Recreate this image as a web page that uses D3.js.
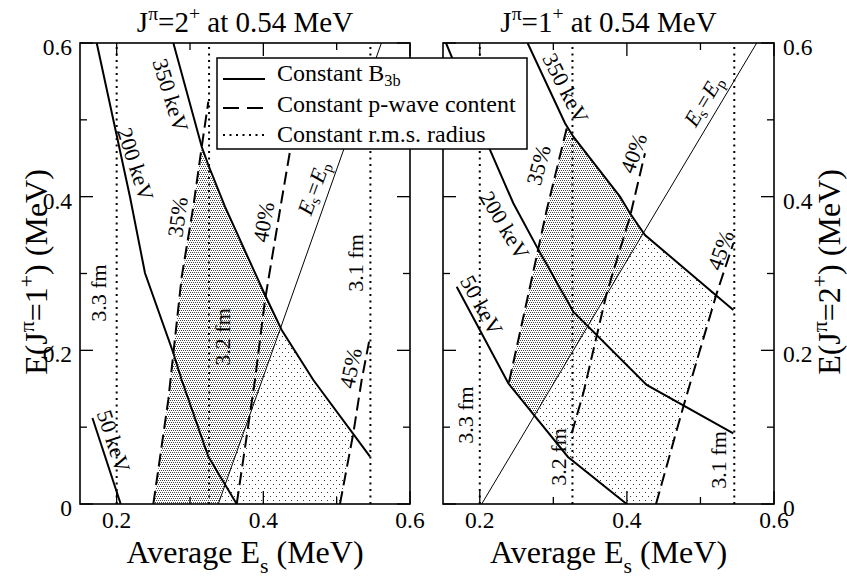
<!DOCTYPE html>
<html><head><meta charset="utf-8">
<script src="https://cdn.jsdelivr.net/npm/d3@7"></script>
<style>
body{margin:0;background:#fff}
svg text, svg tspan{font-family:"Liberation Serif","Times New Roman",Tinos,serif !important}
</style></head>
<body><svg id="c" width="847" height="577" style="font-family:'Liberation Serif','Times New Roman',serif"></svg>
<script>
// ---------------- data ----------------
const xMajor = [0.2, 0.4, 0.6];
const xMinor = [0.3, 0.5];
const yMajor = [0, 0.2, 0.4, 0.6];
const yMinor = [0.1, 0.3, 0.5];
const xTickLabels = ["0.2", "0.4", "0.6"];
const yTickLabels = ["0", "0.2", "0.4", "0.6"];
const rmsRadii = [0.2, 0.326, 0.546];
const rmsLabels = ["3.3 fm", "3.2 fm", "3.1 fm"];
const b3bLabels = ["50 keV", "200 keV", "350 keV"];
const pwaveLabels = ["35%", "40%", "45%"];

// Left panel: J=2+ at 0.54 MeV (y = E(1+))
const L_b50  = [[0.167,0.112],[0.2055,0]];
const L_b200 = [[0.1728,0.6],[0.2182,0.3996],[0.2386,0.3007],[0.2768,0.1978],[0.2887,0.1614],[0.325,0.0616],[0.3637,0]];
const L_b350 = [[0.2773,0.6],[0.316,0.465],[0.325,0.4412],[0.3477,0.387],[0.4023,0.272],[0.425,0.2265],[0.4682,0.1614],[0.5455,0.0616]];
const L_p35  = [[0.25,0],[0.2704,0.1354],[0.2887,0.2958],[0.3045,0.387],[0.316,0.465],[0.325,0.5236]];
const L_p40  = [[0.3637,0],[0.3886,0.1614],[0.4023,0.2655],[0.425,0.3957],[0.4418,0.4894]];
const L_p45  = [[0.5045,0],[0.5227,0.092],[0.5341,0.1614],[0.5455,0.2178]];
const L_eq   = [[0.3386,0],[0.561,0.6]];

// Right panel: J=1+ at 0.54 MeV (y = E(2+))
const R_b50  = [[0.1686,0.2828],[0.2388,0.1571],[0.3199,0.0612],[0.3997,0]];
const R_b200 = [[0.1541,0.6],[0.2139,0.4608],[0.2456,0.3914],[0.2774,0.335],[0.3271,0.2503],[0.4269,0.1549],[0.5447,0.092]];
const R_b350 = [[0.265,0.6],[0.3159,0.4955],[0.3272,0.478],[0.3906,0.4],[0.4042,0.3784],[0.4246,0.3501],[0.5447,0.2525]];
const R_p35  = [[0.2398,0.1588],[0.2683,0.2828],[0.291,0.3827],[0.3182,0.489]];
const R_p40  = [[0.325,0.092],[0.3407,0.144],[0.3725,0.2742],[0.4042,0.374],[0.4246,0.4565]];
const R_p45  = [[0.4396,0],[0.4767,0.1266],[0.4994,0.2004],[0.5221,0.2742],[0.5447,0.3393]];
const R_eq   = [[0.2026,0],[0.5765,0.6]];

// ---------------- layout ----------------
const FONT = "Liberation Serif";
const FONT_STYLE = "font-family:'Liberation Serif','Times New Roman',serif";
const svg = d3.select("#c");
const TOP = 43, BOT = 504;
const FS_TICK = 23.5, FS_NOTE = 22, FS_AX = 32, FS_TITLE = 29, FS_LEG = 24;

const defs = svg.append("defs");
const pd = defs.append("pattern").attr("id","dense").attr("patternUnits","userSpaceOnUse").attr("width",4).attr("height",4);
pd.append("rect").attr("width",4).attr("height",4).attr("fill","#fff");
[[0,0],[2,0],[1,2],[3,2]].forEach(p=>pd.append("rect").attr("x",p[0]).attr("y",p[1]).attr("width",1).attr("height",1).attr("fill","#444"));
const ps = defs.append("pattern").attr("id","sparse").attr("patternUnits","userSpaceOnUse").attr("width",6).attr("height",8);
ps.append("rect").attr("width",6).attr("height",8).attr("fill","#fff");
[[0,0],[3,4]].forEach(p=>ps.append("rect").attr("x",p[0]).attr("y",p[1]).attr("width",1).attr("height",1).attr("fill","#333"));

function txt(parent){ return parent.append("text").attr("font-family",FONT).attr("style",FONT_STYLE).attr("fill","#000"); }
function rich(textSel, parts, fs, subShift){
  const sb = subShift === undefined ? 0.3 : subShift;
  let shift = 0;
  parts.forEach(p=>{
    const ts = textSel.append("tspan").attr("font-family",FONT).text(p.t);
    let target = 0, size = fs;
    if (p.sup){ target = -fs*0.42; size = fs*0.68; }
    if (p.sub){ target = fs*sb; size = fs*0.68; }
    if (target - shift !== 0) ts.attr("dy", target - shift);
    shift = target;
    ts.attr("font-size", size);
    if (p.it) ts.attr("font-style","italic");
  });
}

const panels = [
  { x0:80, x1:410, side:"left",
    title:[{t:"J"},{t:"π",sup:true},{t:"=2"},{t:"+",sup:true},{t:" at 0.54 MeV"}],
    ylab:[{t:"E(J"},{t:"π",sup:true},{t:"=1"},{t:"+",sup:true},{t:") (MeV)"}],
    b:[L_b50,L_b200,L_b350], p:[L_p35,L_p40,L_p45], eq:L_eq, below50:false,
    notes:{ b:[[0.1964,0.082,72],[0.2264,0.4425,72],[0.2741,0.5323,73]],
            p:[[0.2823,0.3735,-82],[0.3996,0.367,-80],[0.5182,0.177,-78]],
            eq:[0.4677,0.4113,-70],
            r:[[0.1745,0.2746],[0.3436,0.2174],[0.525,0.3137]] } },
  { x0:443, x1:774, side:"right",
    title:[{t:"J"},{t:"π",sup:true},{t:"=1"},{t:"+",sup:true},{t:" at 0.54 MeV"}],
    ylab:[{t:"E(J"},{t:"π",sup:true},{t:"=2"},{t:"+",sup:true},{t:") (MeV)"}],
    b:[R_b50,R_b200,R_b350], p:[R_p35,R_p40,R_p45], eq:R_eq, below50:true,
    notes:{ b:[[0.203,0.259,61],[0.2343,0.3631,59],[0.3172,0.5415,63]],
            p:[[0.2791,0.4412,-75],[0.4083,0.4569,-70],[0.5266,0.3306,-70]],
            eq:[0.5035,0.525,-59],
            r:[[0.1799,0.1158],[0.3063,0.0612],[0.5238,0.0573]] } }
];

panels.forEach((P, i)=>{
  const x = d3.scaleLinear().domain([0.15,0.6]).range([P.x0,P.x1]);
  const y = d3.scaleLinear().domain([0,0.6]).range([BOT,TOP]);
  const line = d3.line().x(d=>x(d[0])).y(d=>y(d[1]));
  const poly = pts => "M" + pts.map(d=>x(d[0])+","+y(d[1])).join("L") + "Z";
  const id = "p"+i;

  const mk = (name, pts) => {
    defs.append("clipPath").attr("id",id+name).attr("clipPathUnits","userSpaceOnUse")
      .append("path").attr("d", poly(pts));
    return "url(#"+id+name+")";
  };
  const first = c=>c[0], last = c=>c[c.length-1];
  const rightOf = c => [[first(c)[0],-5], ...c, [last(c)[0],5], [5,5], [5,-5]];
  const leftOf  = c => [[first(c)[0],-5], ...c, [last(c)[0],5], [-5,5], [-5,-5]];
  const below   = c => [[-5,5], [first(c)[0],5], ...c, [last(c)[0],-5], [-5,-5]];
  const above   = c => [...c, [5,last(c)[1]], [5,5], [first(c)[0],5]];

  defs.append("clipPath").attr("id",id+"frame").append("rect")
    .attr("x",P.x0).attr("y",TOP).attr("width",P.x1-P.x0).attr("height",BOT-TOP);

  const cFrame = "url(#"+id+"frame)";
  const cR35 = mk("r35", rightOf(P.p[0]));
  const cL45 = mk("l45", leftOf(P.p[2]));
  const cLeq = mk("leq", leftOf(P.eq));
  const cReq = mk("req", rightOf(P.eq));
  const cB350 = mk("b350", below(P.b[2]));
  const cA50 = mk("a50", above(P.b[0]));

  const root = svg.append("g").attr("clip-path", cFrame);
  let g = root.append("g").attr("clip-path", cR35).append("g").attr("clip-path", cLeq)
              .append("g").attr("clip-path", cB350);
  if (P.below50) g = g.append("g").attr("clip-path", cA50);
  g.append("rect").attr("x",P.x0).attr("y",TOP).attr("width",P.x1-P.x0).attr("height",BOT-TOP).attr("fill","url(#dense)");
  g = root.append("g").attr("clip-path", cReq).append("g").attr("clip-path", cL45)
          .append("g").attr("clip-path", cB350);
  if (P.below50) g = g.append("g").attr("clip-path", cA50);
  g.append("rect").attr("x",P.x0).attr("y",TOP).attr("width",P.x1-P.x0).attr("height",BOT-TOP).attr("fill","url(#sparse)");

  root.selectAll(".rms").data(rmsRadii).enter().append("line")
    .attr("x1",d=>x(d)).attr("x2",d=>x(d)).attr("y1",y(0)).attr("y2",y(0.6))
    .attr("stroke","#000").attr("stroke-width",2).attr("stroke-dasharray","2,4.5");
  root.append("path").attr("d",line(P.eq)).attr("fill","none").attr("stroke","#000").attr("stroke-width",1);
  P.p.forEach(c=>root.append("path").attr("d",line(c)).attr("fill","none").attr("stroke","#000")
     .attr("stroke-width",2).attr("stroke-dasharray","13,6"));
  P.b.forEach(c=>root.append("path").attr("d",line(c)).attr("fill","none").attr("stroke","#000").attr("stroke-width",2));

  svg.append("rect").attr("x",P.x0).attr("y",TOP).attr("width",P.x1-P.x0).attr("height",BOT-TOP)
    .attr("fill","none").attr("stroke","#000").attr("stroke-width",1.6);
  const tk = svg.append("g").attr("stroke","#000").attr("stroke-width",1.3);
  const tx = (vals,len)=>vals.forEach(v=>{
    tk.append("line").attr("x1",x(v)).attr("x2",x(v)).attr("y1",BOT).attr("y2",BOT-len);
    tk.append("line").attr("x1",x(v)).attr("x2",x(v)).attr("y1",TOP).attr("y2",TOP+len);
  });
  const ty = (vals,len)=>vals.forEach(v=>{
    tk.append("line").attr("y1",y(v)).attr("y2",y(v)).attr("x1",P.x0).attr("x2",P.x0+len);
    tk.append("line").attr("y1",y(v)).attr("y2",y(v)).attr("x1",P.x1).attr("x2",P.x1-len);
  });
  tx(xMajor,13); tx(xMinor,7); ty(yMajor,13); ty(yMinor,7);

  xMajor.forEach((v,k)=>txt(svg).attr("x",x(v)).attr("y",528).attr("text-anchor","middle")
    .attr("font-size",FS_TICK).text(xTickLabels[k]));
  yMajor.forEach((v,k)=>{
    const t = txt(svg).attr("y",y(v)+4).attr("dominant-baseline","central").attr("font-size",FS_TICK).text(yTickLabels[k]);
    if (P.side==="left") t.attr("x",P.x0-8).attr("text-anchor","end");
    else t.attr("x",P.x1+9).attr("text-anchor","start");
  });

  const xt = txt(svg).attr("x",(P.x0+P.x1)/2).attr("y",563).attr("text-anchor","middle").attr("font-size",FS_AX);
  rich(xt,[{t:"Average E"},{t:"s",sub:true},{t:" (MeV)"}],FS_AX);
  const yx = P.side==="left" ? 47 : 840;
  const yt = txt(svg).attr("transform","translate("+yx+","+272+") rotate(-90)").attr("text-anchor","middle").attr("font-size",FS_AX);
  rich(yt,P.ylab,FS_AX);
  const tt = txt(svg).attr("x",(P.x0+P.x1)/2).attr("y",32).attr("text-anchor","middle").attr("font-size",FS_TITLE);
  rich(tt,P.title,FS_TITLE);

  const note = (px,py,ang,parts)=>{
    const t = txt(svg).attr("transform","translate("+x(px)+","+y(py)+") rotate("+ang+")")
      .attr("text-anchor","middle").attr("dominant-baseline","central").attr("font-size",FS_NOTE);
    rich(t,parts,FS_NOTE);
  };
  P.notes.b.forEach((n,k)=>note(n[0],n[1],n[2],[{t:b3bLabels[k]}]));
  P.notes.p.forEach((n,k)=>note(n[0],n[1],n[2],[{t:pwaveLabels[k]}]));
  P.notes.r.forEach((n,k)=>note(n[0],n[1],-90,[{t:rmsLabels[k]}]));
  note(P.notes.eq[0],P.notes.eq[1],P.notes.eq[2],[{t:"E",it:true},{t:"s",sub:true},{t:"=E",it:true},{t:"p",sub:true}]);
});

const lg = svg.append("g");
lg.append("rect").attr("x",217).attr("y",58).attr("width",310).attr("height",91).attr("fill","#fff").attr("stroke","#000").attr("stroke-width",1.5);
const legItems = [
  {parts:[{t:"Constant B"},{t:"3b",sub:true}], dash:null, ly:79, ty:81},
  {parts:[{t:"Constant p-wave content"}], dash:"16,8", ly:108, ty:112},
  {parts:[{t:"Constant r.m.s. radius"}], dash:"2,4.5", ly:135, ty:142}
];
legItems.forEach(it=>{
  const l = lg.append("line").attr("x1",223).attr("x2",265).attr("y1",it.ly).attr("y2",it.ly).attr("stroke","#000").attr("stroke-width",2);
  if (it.dash) l.attr("stroke-dasharray",it.dash);
  const t = txt(lg).attr("x",277).attr("y",it.ty).attr("font-size",FS_LEG);
  rich(t,it.parts,FS_LEG,0.22);
});
</script></body></html>
